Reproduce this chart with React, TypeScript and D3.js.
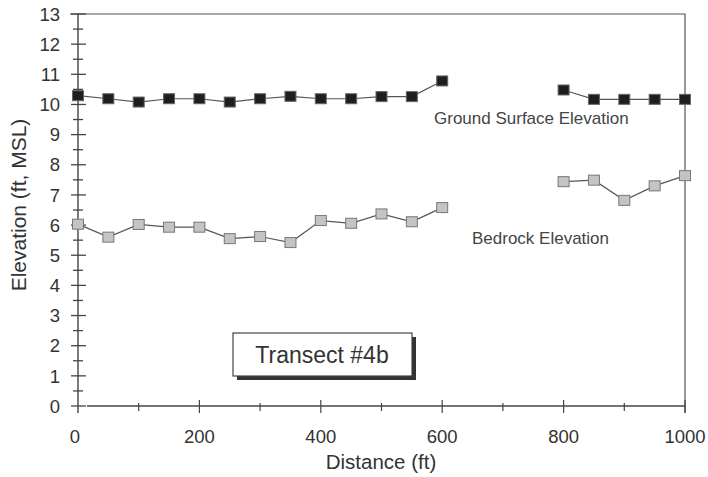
import React, { useRef, useEffect } from "react";
import * as d3 from "d3";

const distances = [0, 50, 100, 150, 200, 250, 300, 350, 400, 450, 500, 550, 600, 650, 700, 750, 800, 850, 900, 950, 1000];
const groundSurface = [10.29, 10.19, 10.08, 10.19, 10.19, 10.08, 10.19, 10.27, 10.19, 10.19, 10.26, 10.26, 10.78, null, null, null, 10.48, 10.17, 10.17, 10.17, 10.17];
const bedrock = [6.03, 5.6, 6.02, 5.93, 5.93, 5.55, 5.62, 5.42, 6.15, 6.06, 6.37, 6.11, 6.58, null, null, null, 7.44, 7.49, 6.82, 7.3, 7.64];
const xTicks = [0, 200, 400, 600, 800, 1000];
const yTicks = d3.range(0, 14);

const width = 708;
const height = 477;
const margin = { top: 14, right: 23, bottom: 71, left: 78 };

const App: React.FC = () => {
  const svgRef = useRef<SVGSVGElement | null>(null);

  useEffect(() => {
    document.body.style.margin = "0";
    if (!svgRef.current) return;
    const svg = d3.select(svgRef.current);
    svg.selectAll("*").remove();

    const x = d3.scaleLinear().domain([0, 1000]).range([margin.left, width - margin.right]);
    const y = d3.scaleLinear().domain([0, 13]).range([height - margin.bottom, margin.top]);
    const font = "'Liberation Sans', Arial, sans-serif";
    const ink = "#333";

    svg.append("rect").attr("width", width).attr("height", height).attr("fill", "#fff");

    // frame: top and right
    svg.append("path")
      .attr("d", `M${x(0) - 8},${y(13)}H${x(1000)}V${y(0) + 7}`)
      .attr("fill", "none")
      .attr("stroke", "#555")
      .attr("stroke-width", 1.2);

    // y axis
    const gy = svg.append("g");
    gy.append("line")
      .attr("x1", x(0)).attr("x2", x(0))
      .attr("y1", y(13)).attr("y2", y(0) + 7)
      .attr("stroke", "#444").attr("stroke-width", 1.4);
    d3.range(0, 13.01, 0.5).forEach((v) => {
      const major = Number.isInteger(v);
      gy.append("line")
        .attr("x1", x(0) - (major ? 7 : 5)).attr("x2", x(0) + (major ? 8 : 5))
        .attr("y1", y(v)).attr("y2", y(v))
        .attr("stroke", "#444").attr("stroke-width", 1.3);
    });
    gy.selectAll("text.ylab")
      .data(yTicks)
      .join("text")
      .attr("x", x(0) - 18)
      .attr("y", (d) => y(d))
      .attr("dy", "0.36em")
      .attr("text-anchor", "end")
      .attr("font-family", font)
      .attr("font-size", 18.5)
      .attr("fill", ink)
      .text((d) => d);

    // x axis
    const gx = svg.append("g");
    gx.append("line")
      .attr("x1", x(0) + 9).attr("x2", x(1000))
      .attr("y1", y(0)).attr("y2", y(0))
      .attr("stroke", "#444").attr("stroke-width", 1.4);
    d3.range(100, 1001, 100).forEach((v) => {
      gx.append("line")
        .attr("x1", x(v)).attr("x2", x(v))
        .attr("y1", y(0) - (v % 200 === 0 ? 6 : 3)).attr("y2", y(0) + (v % 200 === 0 ? 7 : 5))
        .attr("stroke", "#444").attr("stroke-width", 1.2);
    });
    gx.selectAll("text.xlab")
      .data(xTicks)
      .join("text")
      .attr("x", (d) => x(d) - (d === 0 ? 3 : 0))
      .attr("y", y(0) + 37)
      .attr("text-anchor", "middle")
      .attr("font-family", font)
      .attr("font-size", 18.5)
      .attr("fill", ink)
      .text((d) => d);

    svg.append("text")
      .attr("x", 381).attr("y", 469)
      .attr("text-anchor", "middle")
      .attr("font-family", font).attr("font-size", 20.5).attr("fill", ink)
      .text("Distance (ft)");

    svg.append("text")
      .attr("transform", `translate(26,205) rotate(-90)`)
      .attr("text-anchor", "middle")
      .attr("font-family", font).attr("font-size", 21).attr("fill", ink)
      .text("Elevation (ft, MSL)");

    const line = d3.line<number | null>()
      .defined((d) => d !== null)
      .x((_, i) => x(distances[i]))
      .y((d) => y(d as number));

    const series = [
      { values: groundSurface, fill: "#1e1e1e", stroke: "#666" },
      { values: bedrock, fill: "#c4c4c4", stroke: "#777" },
    ];
    series.forEach((s) => {
      svg.append("path")
        .datum(s.values)
        .attr("fill", "none")
        .attr("stroke", "#555")
        .attr("stroke-width", 1.2)
        .attr("d", line);
      svg.append("g")
        .selectAll("rect")
        .data(s.values.map((v, i) => [distances[i], v] as [number, number | null]).filter((d) => d[1] !== null))
        .join("rect")
        .attr("x", (d) => x(d[0]) - 5.5)
        .attr("y", (d) => y(d[1] as number) - 5)
        .attr("width", 11)
        .attr("height", 10)
        .attr("fill", s.fill)
        .attr("stroke", s.stroke)
        .attr("stroke-width", 1);
    });

    svg.append("text")
      .attr("x", 434).attr("y", 124)
      .attr("font-family", font).attr("font-size", 17).attr("fill", "#444")
      .text("Ground Surface Elevation");
    svg.append("text")
      .attr("x", 472).attr("y", 244)
      .attr("font-family", font).attr("font-size", 17).attr("fill", "#444")
      .text("Bedrock Elevation");

    // annotation box
    svg.append("rect")
      .attr("x", 237).attr("y", 337).attr("width", 179).attr("height", 43)
      .attr("fill", "#333");
    svg.append("rect")
      .attr("x", 233).attr("y", 333).attr("width", 179).attr("height", 43)
      .attr("fill", "#fff").attr("stroke", "#444").attr("stroke-width", 1.2);
    svg.append("text")
      .attr("x", 322).attr("y", 363)
      .attr("text-anchor", "middle")
      .attr("font-family", font).attr("font-size", 23).attr("fill", "#333")
      .text("Transect #4b");
  }, []);

  return <svg ref={svgRef} width={width} height={height} style={{ display: "block" }} />;
};

export default App;
